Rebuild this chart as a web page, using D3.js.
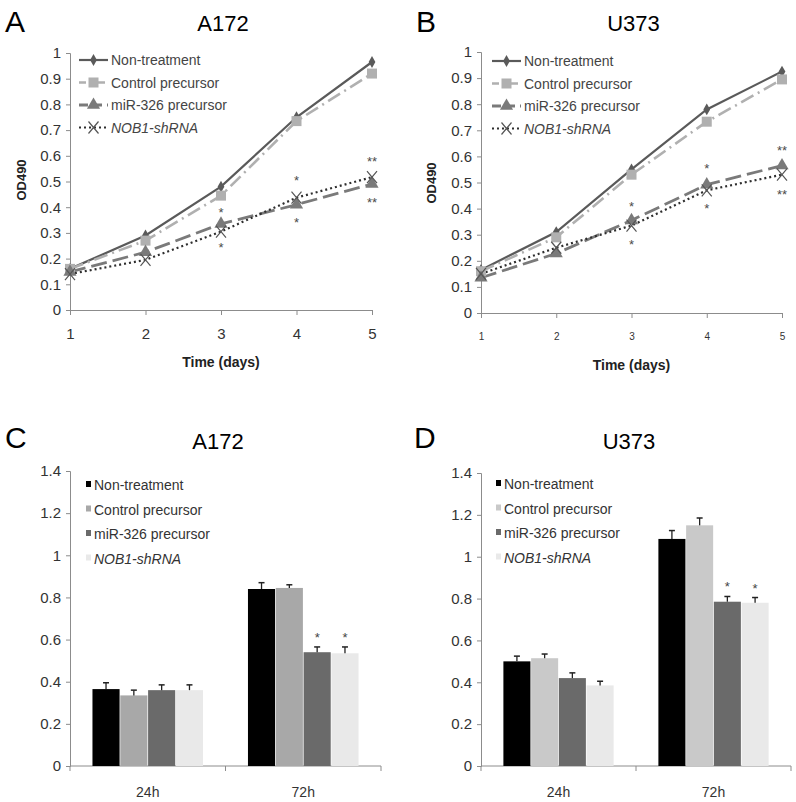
<!DOCTYPE html>
<html>
<head>
<meta charset="utf-8">
<script src="https://cdn.jsdelivr.net/npm/d3@7"></script>
<style>
  body { margin: 0; background: #fff; }
  svg text { font-family: "Liberation Sans Narrow", "Liberation Sans", Arial, sans-serif; }
</style>
</head>
<body>
<svg id="chart" width="796" height="802"></svg>
<script>
// growth curves (OD490) and bar data

var days = [1, 2, 3, 4, 5];
var seriesNames = ["Non-treatment", "Control precursor", "miR-326 precursor", "NOB1-shRNA"];

// panel A, A172
var a172Non = [0.16, 0.29, 0.48, 0.75, 0.965];
var a172Ctrl = [0.16, 0.27, 0.445, 0.735, 0.92];
var a172Mir = [0.148, 0.225, 0.335, 0.41, 0.49];
var a172Nob = [0.14, 0.195, 0.305, 0.437, 0.517];
var a172Stars = [
  { day: 3, v: 0.385, t: "*" }, { day: 3, v: 0.25, t: "*" },
  { day: 4, v: 0.51, t: "*" }, { day: 4, v: 0.345, t: "*" },
  { day: 5, v: 0.585, t: "**" }, { day: 5, v: 0.425, t: "**" }
];

// panel B, U373
var u373Non = [0.165, 0.31, 0.55, 0.78, 0.925];
var u373Ctrl = [0.16, 0.29, 0.53, 0.733, 0.895];
var u373Mir = [0.135, 0.228, 0.355, 0.492, 0.565];
var u373Nob = [0.15, 0.25, 0.335, 0.47, 0.53];
var u373Stars = [
  { day: 3, v: 0.415, t: "*" }, { day: 3, v: 0.27, t: "*" },
  { day: 4, v: 0.56, t: "*" }, { day: 4, v: 0.405, t: "*" },
  { day: 5, v: 0.63, t: "**" }, { day: 5, v: 0.46, t: "**" }
];

// panels C and D: bars
var timePoints = ["24h", "72h"];
var a172Bars24 = [0.365, 0.335, 0.36, 0.36];
var a172Bars72 = [0.84, 0.845, 0.54, 0.535];
var a172Err24 = [0.03, 0.025, 0.025, 0.025];
var a172Err72 = [0.03, 0.015, 0.025, 0.03];
var a172BarStars = ["", "", "*", "*"];

var u373Bars24 = [0.5, 0.515, 0.42, 0.385];
var u373Bars72 = [1.085, 1.15, 0.785, 0.78];
var u373Err24 = [0.025, 0.02, 0.025, 0.02];
var u373Err72 = [0.04, 0.035, 0.025, 0.025];
var u373BarStars = ["", "", "*", "*"];

var lineTicks = [0, 0.1, 0.2, 0.3, 0.4, 0.5, 0.6, 0.7, 0.8, 0.9, 1];
var barTicks = [0, 0.2, 0.4, 0.6, 0.8, 1, 1.2, 1.4];

var svg = d3.select("#chart");
var axisColor = "#8c8c8c";
var textColor = "#333";

var lineStyles = [
  { color: "#5a5a5a", width: 2.2, dash: null, marker: "diamond" },
  { color: "#b0b0b0", width: 2.6, dash: "14,5,2,5", marker: "square" },
  { color: "#7a7a7a", width: 2.8, dash: "16,6", marker: "triangle" },
  { color: "#2e2e2e", width: 2.2, dash: "2,3", marker: "cross" }
];

function drawMarker(g, type, x, y, color) {
  if (type === "diamond") {
    g.append("path").attr("d", d3.symbol(d3.symbolDiamond, 40)())
      .attr("transform", "translate(" + x + "," + y + ")").attr("fill", color);
  } else if (type === "square") {
    g.append("rect").attr("x", x - 5).attr("y", y - 5).attr("width", 10).attr("height", 10).attr("fill", color);
  } else if (type === "triangle") {
    g.append("path").attr("d", d3.symbol(d3.symbolTriangle, 75)())
      .attr("transform", "translate(" + x + "," + y + ")").attr("fill", color);
  } else {
    g.append("path").attr("d", "M" + (x - 5) + "," + (y - 6) + "L" + (x + 5) + "," + (y + 6) +
      "M" + (x + 5) + "," + (y - 6) + "L" + (x - 5) + "," + (y + 6))
      .attr("stroke", "#555").attr("stroke-width", 1.2).attr("fill", "none");
  }
}

function lineChart(o) {
  var g = svg.append("g");
  var x = d3.scaleLinear().domain([1, 5]).range([o.x0, o.x1]);
  var y = d3.scaleLinear().domain([0, 1]).range([o.y0, o.y1]);

  g.append("text").attr("x", o.letterX).attr("y", 32).attr("font-size", 30)
    .attr("font-family", "Liberation Sans, Arial").text(o.letter);
  g.append("text").attr("x", (o.x0 + o.x1) / 2 + 2).attr("y", 31).attr("font-size", 22)
    .attr("text-anchor", "middle").style("font-family", "Liberation Sans, Arial").text(o.title);

  var ya = g.append("g").attr("transform", "translate(" + o.x0 + ",0)")
    .call(d3.axisLeft(y).tickValues(lineTicks).tickSize(4).tickFormat(d3.format("~g")));
  ya.select(".domain").attr("stroke", axisColor);
  ya.selectAll(".tick line").attr("stroke", axisColor);
  ya.selectAll(".tick text").attr("font-size", 15).attr("fill", textColor).attr("x", -9);

  var xa = g.append("g").attr("transform", "translate(0," + o.y0 + ")")
    .call(d3.axisBottom(x).tickValues(days).tickSize(5).tickSizeOuter(0).tickFormat(d3.format("d")));
  xa.select(".domain").attr("stroke", axisColor);
  xa.selectAll(".tick line").attr("stroke", axisColor);
  xa.selectAll(".tick text").attr("font-size", o.xTickSize).attr("fill", textColor).attr("dy", o.xTickDy);

  g.append("text").attr("x", (o.x0 + o.x1) / 2).attr("y", o.y0 + 57).attr("text-anchor", "middle")
    .attr("font-size", 14).attr("font-weight", "bold").attr("fill", "#222").text("Time (days)");
  g.append("text").attr("transform", "translate(" + o.yLabX + "," + (o.y0 - 130) + ") rotate(-90)")
    .attr("text-anchor", "middle").attr("font-size", 13).attr("font-weight", "bold")
    .style("font-family", "Liberation Sans, Arial").attr("fill", "#222").text("OD490");

  var line = d3.line().x(function(d, i) { return x(days[i]); }).y(function(d) { return y(d); });

  o.series.forEach(function(s, k) {
    var st = lineStyles[k];
    g.append("path").datum(s).attr("d", line).attr("fill", "none")
      .attr("stroke", st.color).attr("stroke-width", st.width)
      .attr("stroke-dasharray", st.dash);
  });
  o.series.forEach(function(s, k) {
    var st = lineStyles[k];
    s.forEach(function(v, i) { drawMarker(g, st.marker, x(days[i]), y(v), st.color); });
  });

  o.stars.forEach(function(s) {
    g.append("text").attr("x", x(s.day)).attr("y", y(s.v) + 6).attr("text-anchor", "middle")
      .attr("font-size", 13).attr("fill", "#4a4a4a").text(s.t);
  });

  // legend
  var lg = g.append("g").attr("transform", "translate(" + o.legX + "," + o.legY + ")");
  seriesNames.forEach(function(n, k) {
    var st = lineStyles[k];
    var ly = k * 22.5;
    lg.append("line").attr("x1", 0).attr("x2", 29).attr("y1", ly).attr("y2", ly)
      .attr("stroke", st.color).attr("stroke-width", st.width)
      .attr("stroke-dasharray", k === 1 ? "7,5,2,5" : (k === 2 ? "9,5" : st.dash));
    drawMarker(lg, st.marker, 14.5, ly, st.color);
    lg.append("text").attr("x", 32).attr("y", ly + 5).attr("font-size", 14)
      .attr("fill", "#444").attr("font-style", k === 3 ? "italic" : null).text(n);
  });
}

var barColorsC = ["#000000", "#a8a8a8", "#6a6a6a", "#e9e9e9"];
var barColorsD = ["#000000", "#c9c9c9", "#6a6a6a", "#e9e9e9"];

function barChart(o) {
  var g = svg.append("g");
  var x = d3.scaleBand().domain(timePoints).range([o.x0, o.x1]).paddingInner(0.28).paddingOuter(0.14);
  var xi = d3.scaleBand().domain(d3.range(4)).range([0, x.bandwidth()]).padding(0.025);
  var y = d3.scaleLinear().domain([0, 1.4]).range([o.y0, o.y1]);

  g.append("text").attr("x", o.letterX).attr("y", 448).attr("font-size", 30)
    .style("font-family", "Liberation Sans, Arial").text(o.letter);
  g.append("text").attr("x", o.titleX).attr("y", 449).attr("font-size", 22)
    .attr("text-anchor", "middle").style("font-family", "Liberation Sans, Arial").text(o.title);

  var ya = g.append("g").attr("transform", "translate(" + o.x0 + ",0)")
    .call(d3.axisLeft(y).tickValues(barTicks).tickSize(4).tickFormat(d3.format("~g")));
  ya.select(".domain").attr("stroke", axisColor);
  ya.selectAll(".tick line").attr("stroke", axisColor);
  ya.selectAll(".tick text").attr("font-size", 15).attr("fill", textColor).attr("x", -9);

  g.append("line").attr("x1", o.x0).attr("x2", o.x1).attr("y1", o.y0).attr("y2", o.y0).attr("stroke", axisColor);
  [o.x0, (o.x0 + o.x1) / 2, o.x1].forEach(function(t) {
    g.append("line").attr("x1", t).attr("x2", t).attr("y1", o.y0).attr("y2", o.y0 + 5).attr("stroke", axisColor);
  });
  timePoints.forEach(function(tp) {
    g.append("text").attr("x", x(tp) + x.bandwidth() / 2).attr("y", o.y0 + 31).attr("text-anchor", "middle")
      .attr("font-size", 14).attr("fill", textColor).text(tp);
  });

  var groups = [o.v24, o.v72];
  var errs = [o.e24, o.e72];
  groups.forEach(function(vals, gi) {
    var gx = x(timePoints[gi]);
    vals.forEach(function(v, k) {
      var bx = gx + xi(k);
      var cx = bx + xi.bandwidth() / 2;
      g.append("rect").attr("x", bx).attr("y", y(v)).attr("width", xi.bandwidth())
        .attr("height", o.y0 - y(v)).attr("fill", o.colors[k]);
      var top = y(v + errs[gi][k]);
      g.append("line").attr("x1", cx).attr("x2", cx).attr("y1", y(v)).attr("y2", top)
        .attr("stroke", "#222").attr("stroke-width", 1.3);
      g.append("line").attr("x1", cx - 3).attr("x2", cx + 3).attr("y1", top).attr("y2", top)
        .attr("stroke", "#222").attr("stroke-width", 1.5);
      if (gi === 1 && o.stars[k]) {
        g.append("text").attr("x", cx).attr("y", top - 5).attr("text-anchor", "middle")
          .attr("font-size", 13).attr("fill", "#444").text(o.stars[k]);
      }
    });
  });

  var lg = g.append("g").attr("transform", "translate(" + o.legX + "," + o.legY + ")");
  seriesNames.forEach(function(n, k) {
    var ly = k * 24.5;
    lg.append("rect").attr("x", 0).attr("y", ly - 4).attr("width", 5).attr("height", 6).attr("fill", o.colors[k]);
    lg.append("text").attr("x", 8).attr("y", ly + 5).attr("font-size", 14)
      .attr("fill", "#333").attr("font-style", k === 3 ? "italic" : null).text(n);
  });
}

lineChart({ letter: "A", letterX: 5, title: "A172", x0: 70, x1: 372, y0: 310, y1: 53,
  series: [a172Non, a172Ctrl, a172Mir, a172Nob], stars: a172Stars,
  xTickSize: 15, xTickDy: "1.4em", yLabX: 26, legX: 79, legY: 60 });
lineChart({ letter: "B", letterX: 416, title: "U373", x0: 481, x1: 782, y0: 313, y1: 52,
  series: [u373Non, u373Ctrl, u373Mir, u373Nob], stars: u373Stars,
  xTickSize: 10, xTickDy: "1.9em", yLabX: 436, legX: 492, legY: 61 });

barChart({ letter: "C", letterX: 5, title: "A172", titleX: 218, x0: 70, x1: 381, y0: 766, y1: 471,
  v24: a172Bars24, v72: a172Bars72, e24: a172Err24, e72: a172Err72, stars: a172BarStars,
  colors: barColorsC, legX: 86, legY: 485 });
barChart({ letter: "D", letterX: 414, title: "U373", titleX: 629, x0: 481, x1: 791, y0: 766, y1: 473,
  v24: u373Bars24, v72: u373Bars72, e24: u373Err24, e72: u373Err72, stars: u373BarStars,
  colors: barColorsD, legX: 496, legY: 484 });
</script>
</body>
</html>
